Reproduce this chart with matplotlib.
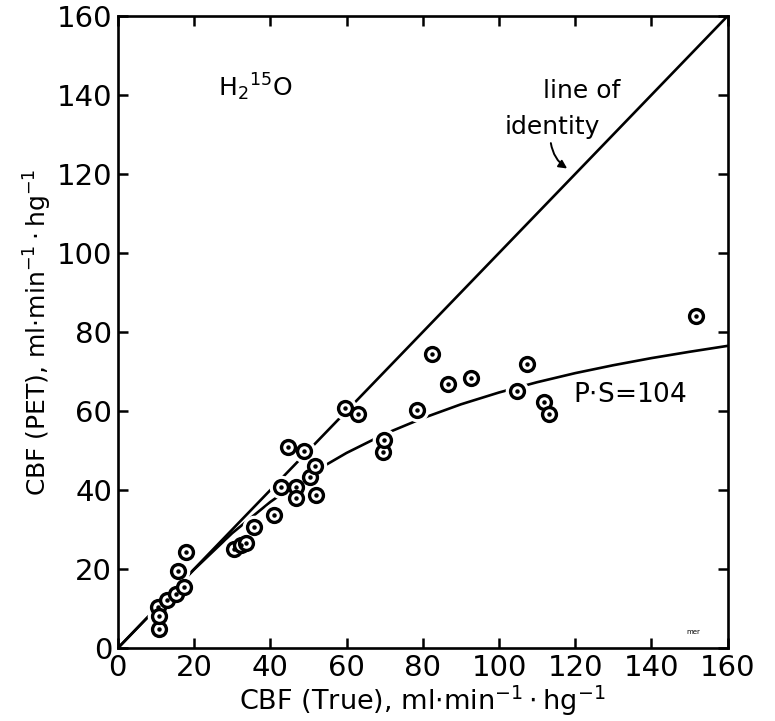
import numpy as np
import matplotlib
matplotlib.use('Agg')
import matplotlib.pyplot as plt

# measured points, CBF(true) vs CBF(PET)
cbf_true = [10.7, 10.6, 10.7, 12.9, 15.2, 17.3, 15.7, 17.8, 30.4, 32.3, 33.5, 35.8,
            40.9, 42.8, 44.6, 46.8, 46.8, 48.8, 50.4, 51.7, 51.9, 59.5, 62.9,
            69.6, 69.9, 78.5, 82.3, 86.6, 92.7, 104.6, 107.4, 111.7, 113.0, 151.8]
cbf_pet = [4.8, 10.3, 8.1, 12.1, 13.7, 15.5, 19.5, 24.3, 25.2, 26.0, 26.5, 30.7,
           33.8, 40.8, 51.0, 40.7, 38.1, 49.9, 43.2, 46.1, 38.7, 60.9, 59.2,
           49.7, 52.8, 60.3, 74.4, 66.8, 68.4, 65.1, 71.9, 62.4, 59.2, 84.0]

# P.S = 104 curve
curve_x = [0, 10, 20, 30, 40, 50, 60, 70, 80, 90, 100, 110, 120, 130, 140, 150, 160]
curve_y = [0, 10.0, 19.9, 29.1, 37.0, 43.8, 49.4, 54.2, 58.2, 61.7, 64.7, 67.3,
           69.6, 71.6, 73.4, 75.0, 76.5]

fs = 21
fig = plt.figure(figsize=(7.75, 7.21), dpi=100)
ax = fig.add_axes([0.152, 0.101, 0.787, 0.877])

ax.plot([0, 160], [0, 160], color='black', lw=1.9, zorder=1)
ax.plot(curve_x, curve_y, color='black', lw=1.9, zorder=1)

# white halo so lines break around the points
ax.plot(cbf_true, cbf_pet, 'o', ms=16, mfc='white', mec='white', zorder=2)
ax.plot(cbf_true, cbf_pet, 'o', ms=10, mfc='white', mec='black', mew=2.4, zorder=3)
ax.plot(cbf_true, cbf_pet, 'o', ms=2.2, color='black', zorder=4)

ax.set_xlim(0, 160)
ax.set_ylim(0, 160)
ax.set_xticks(range(0, 161, 20))
ax.set_yticks(range(0, 161, 20))
ax.tick_params(direction='in', length=7, width=1.8, labelsize=fs,
               top=True, right=True, pad=4)
for s in ax.spines.values():
    s.set_linewidth(1.9)

ax.set_xlabel('CBF (True), ml$\\cdot$min$^{-1}\\cdot$hg$^{-1}$', fontsize=19.5, labelpad=1)
ax.set_ylabel('CBF (PET), ml$\\cdot$min$^{-1}\\cdot$hg$^{-1}$', fontsize=18, labelpad=2)

ax.text(36, 142, 'H$_2$$^{15}$O', fontsize=18, ha='center', va='center')
ax.text(121.8, 141, 'line of', fontsize=18, ha='center', va='center')
ax.text(114, 132, 'identity', fontsize=18, ha='center', va='center')
ax.annotate('', xy=(118.5, 121), xytext=(113.5, 128.5),
            arrowprops=dict(arrowstyle='-|>', color='black', lw=1.4,
                            connectionstyle='arc3,rad=0.25', mutation_scale=12))
ax.text(134.3, 64, 'P$\\cdot$S=104', fontsize=19, ha='center', va='center')
ax.text(151, 4, 'mer', fontsize=5, ha='center', va='center')

fig.savefig('out.png', dpi=100)
